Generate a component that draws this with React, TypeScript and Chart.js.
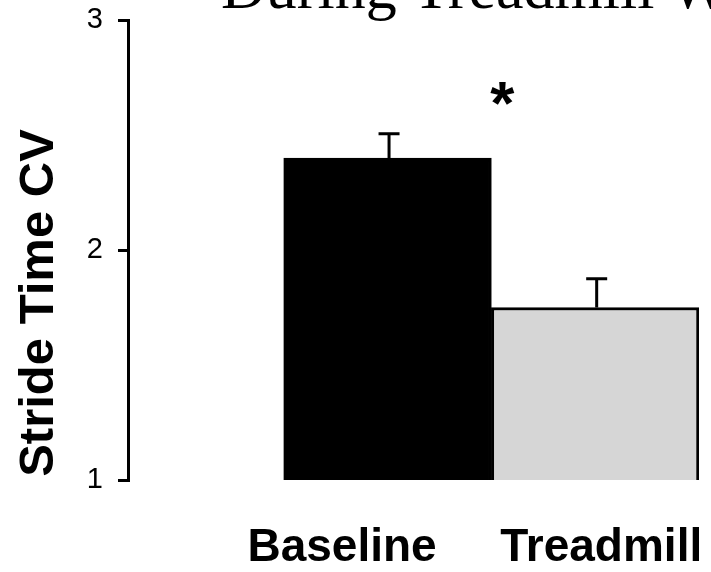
import React, { useEffect, useRef } from 'react';
import { Chart, registerables } from 'chart.js';

Chart.register(...registerables);

const categories = ['Baseline', 'Treadmill'];
const means = [2.4, 1.75];
const errorsUp = [0.105, 0.125];
const yTicks = [1, 2, 3];
const barColors = ['#000000', '#d6d6d6'];
const titleText = 'During Treadmill Walking';
const yTitle = 'Stride Time CV';
const sigMark = '*';

const SANS = '"Liberation Sans", Arial, Helvetica, sans-serif';
const SERIF = '"Liberation Serif", "Times New Roman", serif';

export default function App() {
  const ref = useRef<HTMLCanvasElement | null>(null);

  useEffect(() => {
    document.body.style.margin = '0';
    const canvas = ref.current;
    if (!canvas) return;

    const overlay = {
      id: 'overlay',
      afterDatasetsDraw(chart: any) {
        const ctx = chart.ctx;
        const xs = chart.scales.x;
        const ys = chart.scales.y;
        ctx.save();
        ctx.strokeStyle = '#000';
        ctx.lineWidth = 3;
        means.forEach((m, i) => {
          const x = xs.getPixelForValue(i + 1) + 1.5;
          const yb = ys.getPixelForValue(m);
          const yt = ys.getPixelForValue(m + errorsUp[i]);
          ctx.beginPath();
          ctx.moveTo(x, yb);
          ctx.lineTo(x, yt);
          ctx.moveTo(x - 10.5, yt);
          ctx.lineTo(x + 10.5, yt);
          ctx.stroke();
        });
        // significance mark
        ctx.fillStyle = '#000';
        ctx.font = 'bold 62px ' + SANS;
        ctx.textAlign = 'center';
        ctx.textBaseline = 'alphabetic';
        ctx.fillText(sigMark, xs.getPixelForValue(1.5) + 11, 124);
        // title
        ctx.font = '62px ' + SERIF;
        ctx.textAlign = 'left';
        ctx.fillText(titleText, 221, 8);
        // y title
        ctx.translate(53, 303);
        ctx.rotate(-Math.PI / 2);
        ctx.font = 'bold 49px ' + SANS;
        ctx.textAlign = 'center';
        ctx.fillText(yTitle, 0, 0);
        ctx.restore();
      },
    };

    const chart = new Chart(canvas, {
      type: 'bar',
      data: {
        datasets: [
          {
            data: means.map((v, i) => ({ x: i + 1, y: v })),
            backgroundColor: barColors,
            borderColor: '#000',
            borderWidth: 3,
            borderSkipped: false,
            barPercentage: 1,
            categoryPercentage: 1,
          },
        ],
      },
      options: {
        responsive: false,
        animation: false,
        layout: { padding: { top: 20, right: 12, bottom: 0, left: 0 } },
        plugins: { legend: { display: false }, tooltip: { enabled: false }, title: { display: false } },
        scales: {
          x: {
            type: 'linear',
            min: -0.25,
            max: 2.5,
            offset: false,
            grid: { display: false, drawTicks: false, offset: false },
            border: { display: false },
            afterBuildTicks: (s: any) => {
              s.ticks = [{ value: 0.781 }, { value: 2.029 }];
            },
            afterFit: (s: any) => {
              s.height = 92;
              s.paddingLeft = 0;
              s.paddingRight = 0;
            },
            ticks: {
              autoSkip: false,
              maxRotation: 0,
              padding: 41,
              color: '#000',
              font: { family: SANS, size: 46, weight: 'bold' },
              callback: (v: any) => categories[Math.round(Number(v)) - 1] ?? '',
            },
          },
          y: {
            type: 'linear',
            min: 1,
            max: 3,
            afterBuildTicks: (s: any) => {
              s.ticks = yTicks.map((v) => ({ value: v }));
            },
            afterFit: (s: any) => {
              s.width = 128;
              s.paddingTop = 0;
              s.paddingBottom = 0;
            },
            grid: { drawOnChartArea: false, drawTicks: true, tickLength: 10, lineWidth: 3, color: '#000' },
            border: { display: true, color: '#000', width: 3 },
            ticks: {
              padding: 15,
              color: '#000',
              font: { family: SANS, size: 29 },
            },
          },
        },
      },
      plugins: [overlay],
    } as any);

    return () => chart.destroy();
  }, []);

  return (
    <div style={{ width: 711, height: 572 }}>
      <canvas ref={ref} width={711} height={572} style={{ display: 'block' }} />
    </div>
  );
}
